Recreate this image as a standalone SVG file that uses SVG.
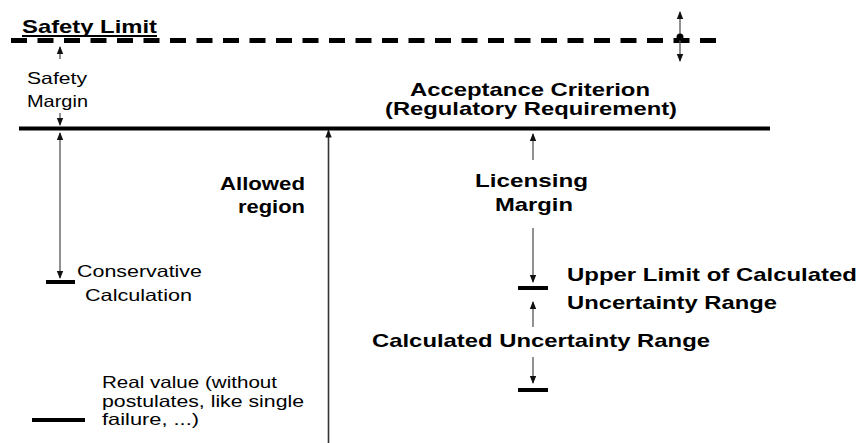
<svg xmlns="http://www.w3.org/2000/svg" width="859" height="443" viewBox="0 0 859 443">
<style>
.b{font-family:"Liberation Sans",Arial,sans-serif;font-weight:bold;font-size:19px;fill:#000}
.r{font-family:"Liberation Sans",Arial,sans-serif;font-size:16.5px;fill:#000}
.ar{stroke:#555;stroke-width:1.3;fill:none}
.bar{stroke:#000;stroke-width:4}
</style>
<defs>
<marker id="ah" viewBox="0 0 8 8" refX="7" refY="4" markerWidth="8" markerHeight="8" markerUnits="userSpaceOnUse" orient="auto-start-reverse">
<path d="M0,0.8 L8,4 L0,7.2 Z" fill="#111"/>
</marker>
</defs>
<rect width="859" height="443" fill="#fff"/>
<g id="safety-limit">
<line x1="11" y1="40.5" x2="717" y2="40.5" stroke="#000" stroke-width="5" stroke-dasharray="16 10.5"/>
<line x1="22" y1="36" x2="157" y2="36" stroke="#000" stroke-width="2"/>
<text class="b" x="22" y="33" textLength="135" lengthAdjust="spacingAndGlyphs">Safety Limit</text>
</g>
<g id="acceptance-criterion">
<line x1="19" y1="128.5" x2="770" y2="128.5" stroke="#000" stroke-width="4"/>
<text class="b" x="410" y="96" textLength="240" lengthAdjust="spacingAndGlyphs">Acceptance Criterion</text>
<text class="b" x="385" y="115" textLength="292" lengthAdjust="spacingAndGlyphs">(Regulatory Requirement)</text>
</g>
<g id="safety-margin">
<text class="r" x="27" y="84" textLength="60" lengthAdjust="spacingAndGlyphs">Safety</text>
<text class="r" x="27" y="107" textLength="61" lengthAdjust="spacingAndGlyphs">Margin</text>
</g>
<g id="conservative-calculation">
<line class="bar" x1="46" y1="282" x2="75" y2="282"/>
<text class="r" x="77" y="277" textLength="125" lengthAdjust="spacingAndGlyphs">Conservative</text>
<text class="r" x="85" y="301" textLength="107" lengthAdjust="spacingAndGlyphs">Calculation</text>
</g>
<g id="allowed-region">
<text class="b" x="220" y="190" textLength="85" lengthAdjust="spacingAndGlyphs">Allowed</text>
<text class="b" x="238" y="213" textLength="67" lengthAdjust="spacingAndGlyphs">region</text>
</g>
<g id="licensing-margin">
<text class="b" x="475" y="187" textLength="113" lengthAdjust="spacingAndGlyphs">Licensing</text>
<text class="b" x="495" y="211" textLength="78" lengthAdjust="spacingAndGlyphs">Margin</text>
</g>
<g id="upper-limit">
<line class="bar" x1="518" y1="288" x2="548" y2="288"/>
<text class="b" x="567" y="281" textLength="290" lengthAdjust="spacingAndGlyphs">Upper Limit of Calculated</text>
<text class="b" x="567" y="309" textLength="210" lengthAdjust="spacingAndGlyphs">Uncertainty Range</text>
</g>
<g id="uncertainty-range">
<line class="bar" x1="518" y1="390" x2="548" y2="390"/>
<text class="b" x="372" y="347" textLength="338" lengthAdjust="spacingAndGlyphs">Calculated Uncertainty Range</text>
</g>
<g id="real-value">
<line class="bar" x1="32" y1="420" x2="85" y2="420"/>
<text class="r" x="102" y="388" textLength="175" lengthAdjust="spacingAndGlyphs">Real value (without</text>
<text class="r" x="102" y="407" textLength="202" lengthAdjust="spacingAndGlyphs">postulates, like single</text>
<text class="r" x="102" y="425" textLength="97" lengthAdjust="spacingAndGlyphs">failure, ...)</text>
</g>
<g id="connectors">
<line class="ar" x1="60" y1="59" x2="60" y2="47" marker-end="url(#ah)"/>
<line class="ar" x1="60" y1="113" x2="60" y2="125" marker-end="url(#ah)"/>
<line class="ar" x1="60" y1="133" x2="60" y2="278" marker-start="url(#ah)" marker-end="url(#ah)"/>
<line x1="328.5" y1="443" x2="328.5" y2="130.5" stroke="#333" stroke-width="1.6" marker-end="url(#ah)"/>
<line class="ar" x1="533" y1="160" x2="533" y2="134" marker-end="url(#ah)"/>
<line class="ar" x1="533" y1="228" x2="533" y2="282" marker-end="url(#ah)"/>
<line class="ar" x1="533" y1="327" x2="533" y2="302" marker-end="url(#ah)"/>
<line class="ar" x1="533" y1="357" x2="533" y2="383" marker-end="url(#ah)"/>
<line class="ar" x1="680" y1="12" x2="680" y2="61" marker-start="url(#ah)" marker-end="url(#ah)"/>
<circle cx="680" cy="37" r="3.5" fill="#000"/>
</g>
</svg>
